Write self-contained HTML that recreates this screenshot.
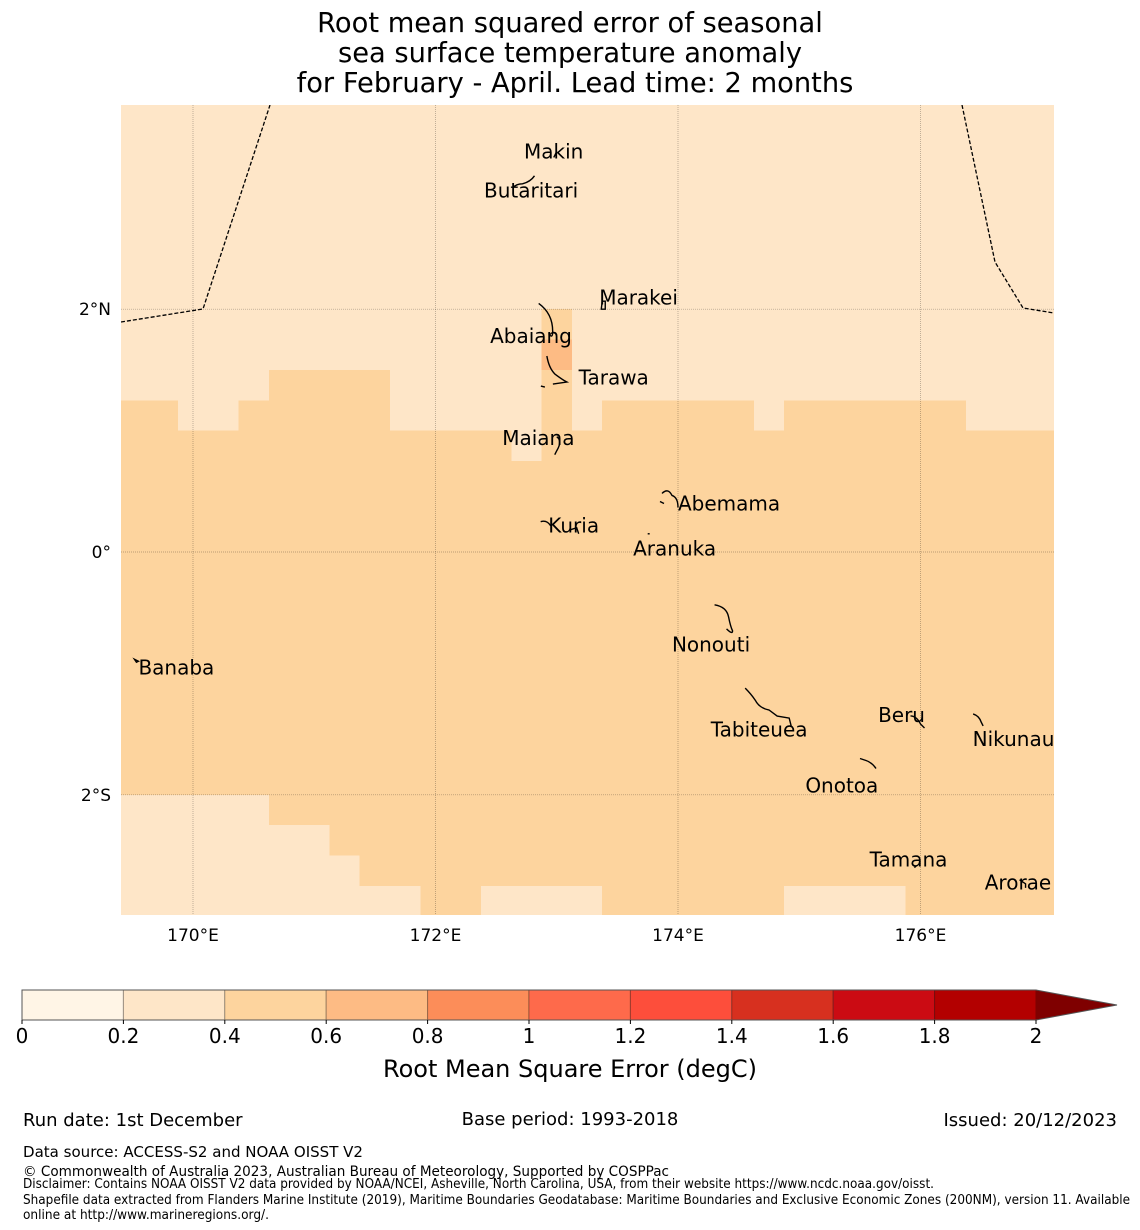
<!DOCTYPE html>
<html><head><meta charset="utf-8">
<style>
html,body{margin:0;padding:0;background:#fff;}
svg{display:block;font-family:"DejaVu Sans","Liberation Sans",sans-serif;}
</style></head>
<body>
<svg id="chart" width="1140" height="1230" viewBox="0 0 1140 1230">
  <g font-size="27.3" text-anchor="middle" fill="#000">
    <text x="570" y="32">Root mean squared error of seasonal</text>
    <text x="570" y="62">sea surface temperature anomaly</text>
    <text x="575" y="92">for February - April. Lead time: 2 months</text>
  </g>
  <g id="map"></g>
  <g id="cbar"></g>
  <text x="570" y="1077" font-size="24" text-anchor="middle">Root Mean Square Error (degC)</text>
  <g font-size="18">
    <text x="23" y="1126">Run date: 1st December</text>
    <text x="570" y="1125" text-anchor="middle">Base period: 1993-2018</text>
    <text x="1117" y="1126" text-anchor="end">Issued: 20/12/2023</text>
    <text x="23" y="1157" font-size="15" textLength="340" lengthAdjust="spacingAndGlyphs">Data source: ACCESS-S2 and NOAA OISST V2</text>
    <text x="23" y="1176" font-size="14" textLength="646" lengthAdjust="spacingAndGlyphs">© Commonwealth of Australia 2023, Australian Bureau of Meteorology, Supported by COSPPac</text>
    <text x="23" y="1188" font-size="13" textLength="911" lengthAdjust="spacingAndGlyphs">Disclaimer: Contains NOAA OISST V2 data provided by NOAA/NCEI, Asheville, North Carolina, USA, from their website https://www.ncdc.noaa.gov/oisst.</text>
    <text x="23" y="1204" font-size="13" textLength="1107" lengthAdjust="spacingAndGlyphs">Shapefile data extracted from Flanders Marine Institute (2019), Maritime Boundaries Geodatabase: Maritime Boundaries and Exclusive Economic Zones (200NM), version 11. Available</text>
    <text x="23" y="1219" font-size="13" textLength="246" lengthAdjust="spacingAndGlyphs">online at http://www.marineregions.org/.</text>
  </g>
</svg>
<script>
// ---- data ----
const binEdges = [0,0.2,0.4,0.6,0.8,1,1.2,1.4,1.6,1.8,2];
const binColors = ["#fff5e6","#fee6c8","#fdd49e","#fdbb84","#fc8d59","#fe6a4b","#fd4e3b","#d7301f","#cb0b13","#b30000"];
const overColor = "#7f0000";
const tickLabels = ["0","0.2","0.4","0.6","0.8","1","1.2","1.4","1.6","1.8","2"];
const lonTicks = [170,172,174,176];
const lonLabels = ["170°E","172°E","174°E","176°E"];
const latTicks = [2,0,-2];
const latLabels = ["2°N","0°","2°S"];
const backgroundValue = 0.3;
// cells: [lon0, lon1, latTop, latBottom, rmse]
const cells = [
 [172.875,173.125,2.0,1.75,0.5],
 [172.875,173.125,1.75,1.5,0.7],
 [170.625,171.625,1.5,1.25,0.5],
 [172.875,173.125,1.5,1.25,0.5],
 [169.4,169.875,1.25,1.0,0.5],
 [170.375,171.625,1.25,1.0,0.5],
 [172.875,173.125,1.25,1.0,0.5],
 [173.375,174.625,1.25,1.0,0.5],
 [174.875,176.375,1.25,1.0,0.5],
 [169.4,172.625,1.0,0.75,0.5],
 [172.875,177.1,1.0,0.75,0.5],
 [169.4,177.1,0.75,-2.0,0.5],
 [170.625,177.1,-2.0,-2.25,0.5],
 [171.125,177.1,-2.25,-2.5,0.5],
 [171.375,177.1,-2.5,-2.75,0.5],
 [171.875,172.375,-2.75,-3.0,0.5],
 [173.375,174.875,-2.75,-3.0,0.5],
 [175.875,177.1,-2.75,-3.0,0.5]
];
const islandNames = ["Makin","Butaritari","Marakei","Abaiang","Tarawa","Maiana","Abemama","Kuria","Aranuka","Nonouti","Banaba","Tabiteuea","Beru","Nikunau","Onotoa","Tamana","Arorae"];
const islandLon = [173.0,172.8,173.4,172.95,173.1,173.0,174.0,172.95,173.75,174.45,169.55,174.95,176.0,176.5,175.6,175.95,176.85];
const islandLat = [3.3,3.0,2.0,1.8,1.4,0.9,0.4,0.2,0.15,-0.6,-0.9,-1.5,-1.4,-1.4,-1.8,-2.6,-2.75];
const labelLon = [172.73,172.4,173.35,172.45,173.18,172.55,174.0,172.93,173.63,173.95,169.55,174.27,175.65,176.43,175.05,175.58,176.53];
const labelLat = [3.24,2.92,2.04,1.72,1.38,0.88,0.34,0.16,-0.03,-0.82,-1.01,-1.52,-1.4,-1.6,-1.98,-2.59,-2.78];
// ---- scales ----
const X0=121,X1=1054,Y0=105,Y1=915;
const xS = lon => 193 + (lon-170)*121.25;
const yS = lat => 552 - lat*121.4;
const colorOf = v => { for(let i=0;i<binColors.length;i++){ if(v<binEdges[i+1]) return binColors[i]; } return overColor; };
const NS="http://www.w3.org/2000/svg";
function mk(tag, attrs, parent){ const e=document.createElementNS(NS,tag); for(const k in attrs) e.setAttribute(k,attrs[k]); parent.appendChild(e); return e; }
const map=document.getElementById('map');
const defs=mk('defs',{},map);
const cp=mk('clipPath',{id:'clip'},defs);
mk('rect',{x:X0,y:Y0,width:X1-X0,height:Y1-Y0},cp);
const g=mk('g',{'clip-path':'url(#clip)'},map);
const bg=mk('rect',{x:X0,y:Y0,width:X1-X0,height:Y1-Y0,fill:colorOf(backgroundValue)},g);


cells.forEach(c=>{
  const r=mk('rect',{x:xS(c[0]),y:yS(c[2]),width:xS(c[1])-xS(c[0]),height:yS(c[3])-yS(c[2]),fill:colorOf(c[4]),'shape-rendering':'crispEdges'},g);
  
  
});
lonTicks.forEach((lon,i)=>{
  const l=mk('line',{x1:xS(lon),x2:xS(lon),y1:Y0,y2:Y1,stroke:'#000','stroke-opacity':0.35,'stroke-width':0.7,'stroke-dasharray':'1,1'},g);
  
  
  const t=mk('text',{x:xS(lon),y:941,'font-size':17,'text-anchor':'middle'},map);
  t.textContent=lonLabels[i];
  
  
});
latTicks.forEach((lat,i)=>{
  const l=mk('line',{x1:X0,x2:X1,y1:yS(lat),y2:yS(lat),stroke:'#000','stroke-opacity':0.35,'stroke-width':0.7,'stroke-dasharray':'1,1'},g);
  
  
  const t=mk('text',{x:111,y:yS(lat)+6,'font-size':17,'text-anchor':'end'},map);
  t.textContent=latLabels[i];
  
  
});
const eez1=mk('polyline',{points:'121,322 203,309 270,105',fill:'none',stroke:'#000','stroke-width':1.3,'stroke-dasharray':'4,2'},g);


const eez2=mk('polyline',{points:'962,105 995,262 1023,308 1054,313',fill:'none',stroke:'#000','stroke-width':1.3,'stroke-dasharray':'4,2'},g);


const shapes={
 "Makin":"m0,0 l-3,6","Butaritari":"m-20,0 q4,-4 10,-4 q8,-2 12,-8",
 "Marakei":"m-4,0 l1,-8 l3,0 l0,8 z","Abaiang":"m-12,-30 q14,10 14,28 q0,8 -4,2",
 "Tarawa":"m-22,-26 q2,12 8,18 q8,6 12,8 l-14,2 m-12,2 l4,1",
 "Maiana":"m0,-6 q6,4 0,14 l-2,4","Abemama":"m-16,-10 q6,-6 10,2 q6,2 6,12 m-18,-6 l4,2",
 "Kuria":"m-10,-6 q6,-2 10,4 m20,4 l6,-2 l2,6","Aranuka":"m0,0 l2,0",
 "Nonouti":"m-18,-20 q12,2 14,12 q2,10 4,14 q0,4 -6,-2",
 "Banaba":"m-4,-2 l4,2 l-2,1 z","Tabiteuea":"m-48,-46 q6,6 10,12 q4,8 14,10 l8,6 l12,2 l2,8",
 "Beru":"m-10,-6 q6,0 10,8 l4,4","Nikunau":"m-8,-8 q6,2 8,8 l2,4",
 "Onotoa":"m-12,-12 l6,2 q6,2 10,8","Tamana":"m0,0 l2,-2","Arorae":"m-4,-6 l6,4 l0,4"
};
islandNames.forEach((n,i)=>{
  const p=mk('path',{d:'M'+xS(islandLon[i])+','+yS(islandLat[i])+' '+shapes[n],fill:'none',stroke:'#000','stroke-width':1.4},g);
  
  
  const t=mk('text',{x:xS(labelLon[i]),y:yS(labelLat[i]),'font-size':20,fill:'#000'},map);
  t.textContent=n;
  
  
});
const cb=document.getElementById('cbar');
const cx=v=>22+v*507;
for(let i=0;i<binColors.length;i++){
  const r=mk('rect',{x:cx(binEdges[i]),y:990,width:cx(binEdges[i+1])-cx(binEdges[i]),height:30,fill:binColors[i],stroke:'#000','stroke-opacity':0.3,'stroke-width':1},cb);
  
  
}
const tri=mk('polygon',{points:cx(2)+',990 1117,1005 '+cx(2)+',1020',fill:overColor},cb);


const fr=mk('polygon',{points:'22,990 '+cx(2)+',990 1117,1005 '+cx(2)+',1020 22,1020',fill:'none',stroke:'#555','stroke-width':1},cb);


binEdges.forEach((v,i)=>{
  mk('line',{x1:cx(v),x2:cx(v),y1:1020,y2:1024,stroke:'#000'},cb);
  const t=mk('text',{x:cx(v),y:1043,'font-size':20,'text-anchor':'middle'},cb);
  t.textContent=tickLabels[i];
  
  
});
</script>
</body></html>
